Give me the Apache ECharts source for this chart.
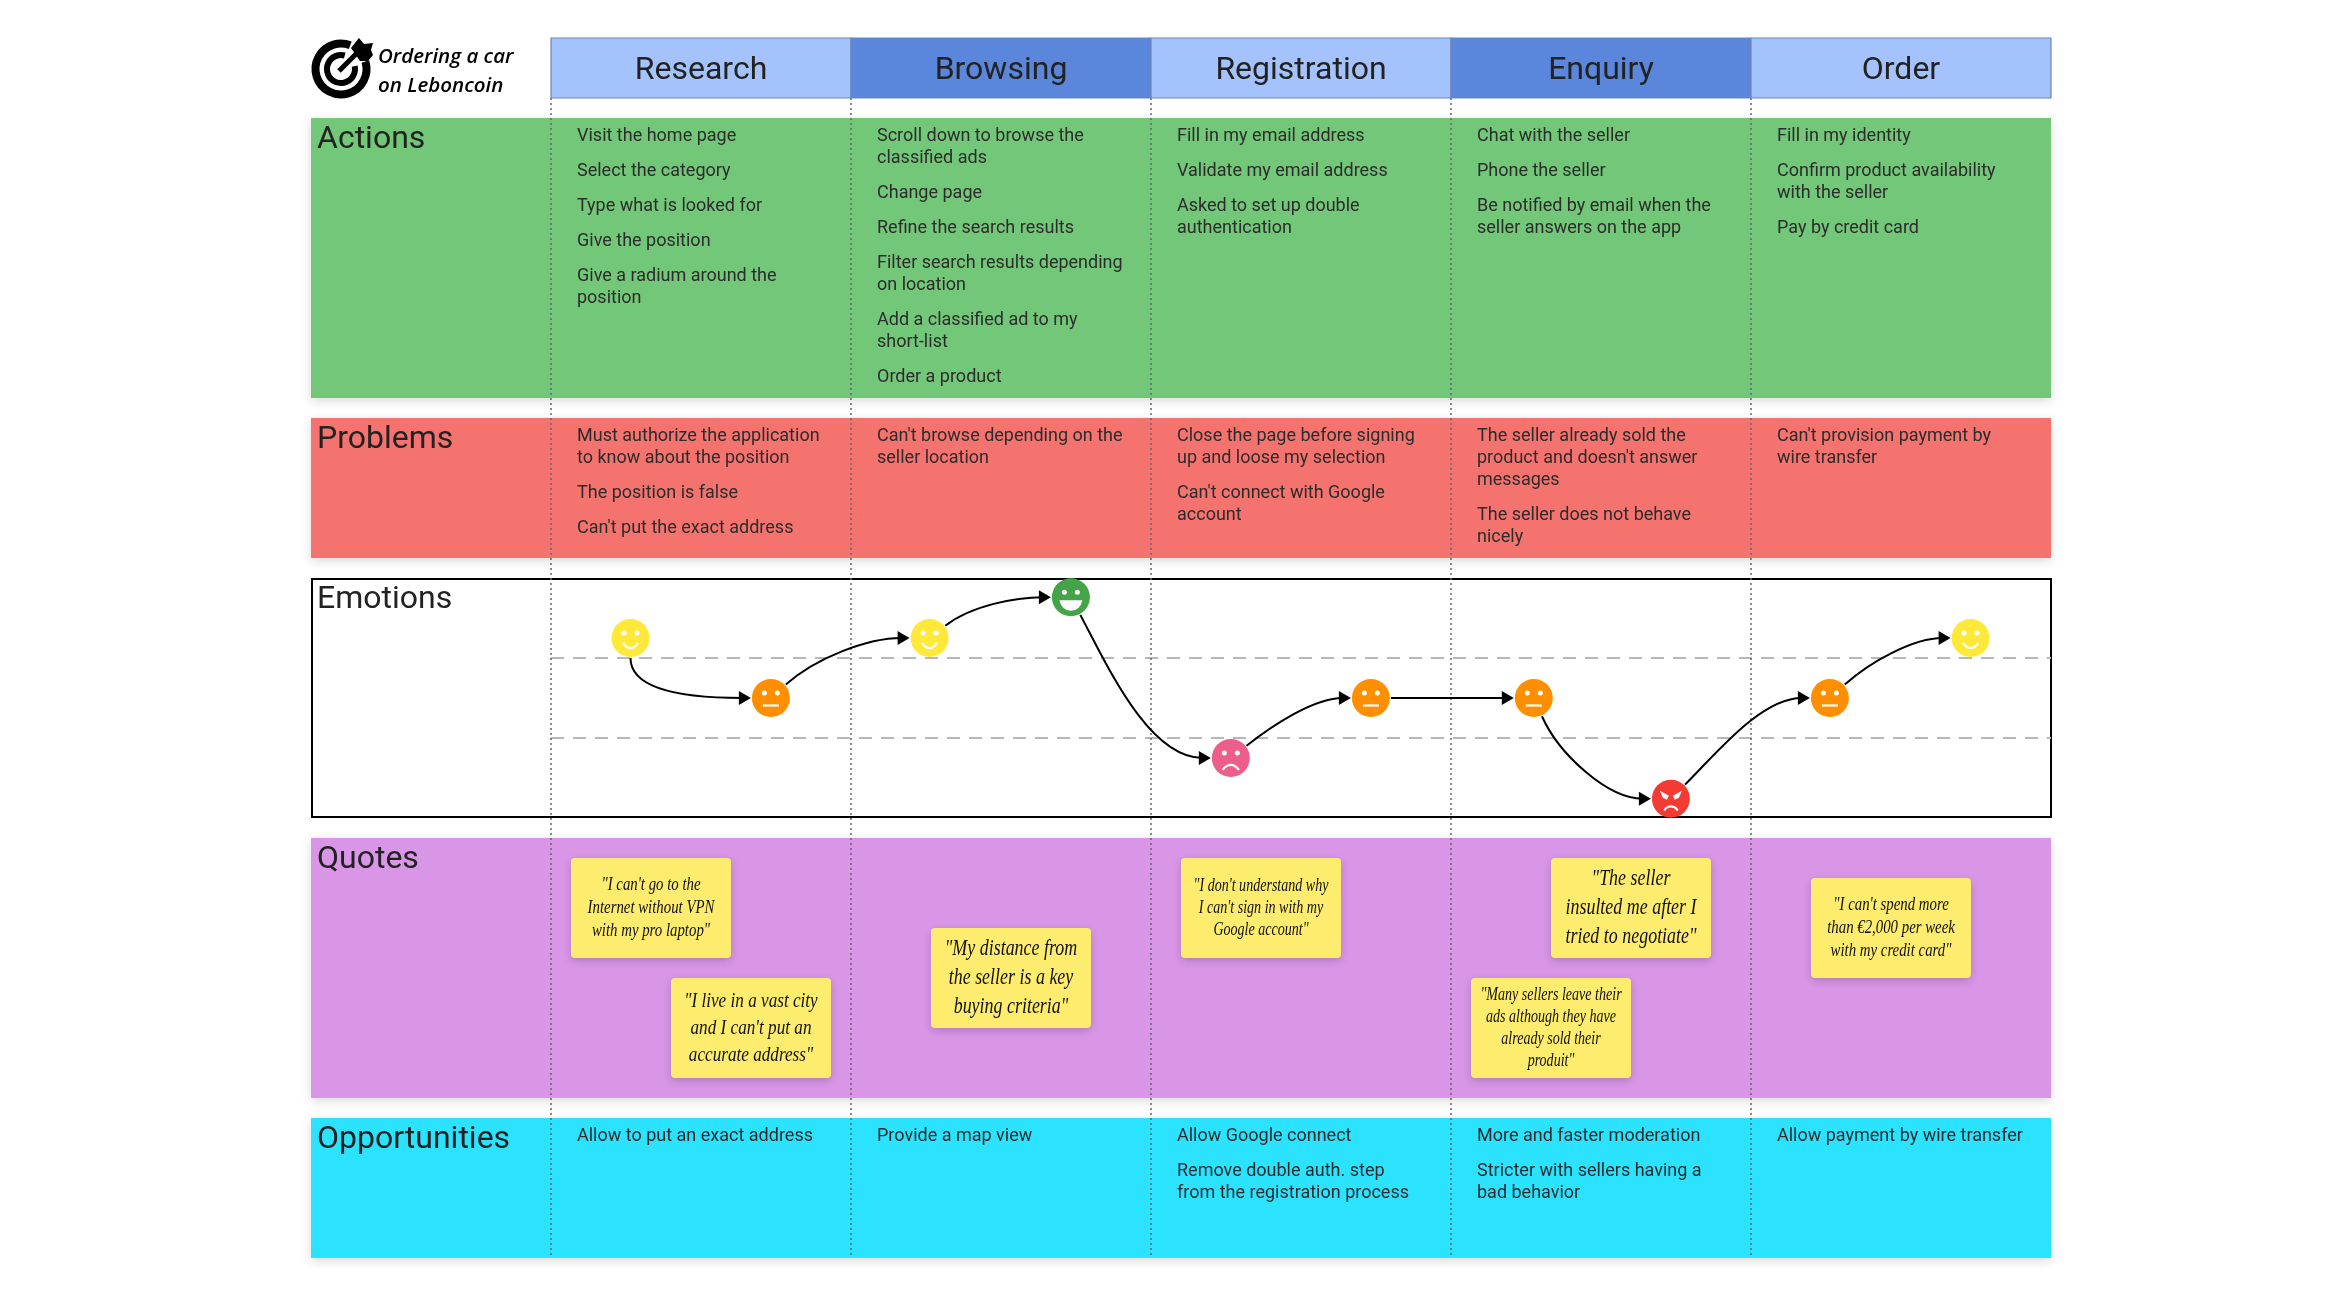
<!DOCTYPE html>
<html>
<head>
<meta charset="utf-8">
<title>Ordering a car on Leboncoin</title>
<script src="https://cdn.jsdelivr.net/npm/echarts@6/dist/echarts.min.js"></script>
<style>
  html, body { margin: 0; padding: 0; background: #fff; }
  #chart { width: 2351px; height: 1300px; }
</style>
</head>
<body>
<div id="chart"></div>
<script>
// stages of the journey
var stages = ["Research", "Browsing", "Registration", "Enquiry", "Order"];
var titleLines = ["Ordering a car", "on Leboncoin"];
var rowNames = ["Actions", "Problems", "Emotions", "Quotes", "Opportunities"];

var actions = [
  ["Visit the home page", "Select the category", "Type what is looked for", "Give the position", "Give a radium around the\nposition"],
  ["Scroll down to browse the\nclassified ads", "Change page", "Refine the search results", "Filter search results depending\non location", "Add a classified ad to my\nshort-list", "Order a product"],
  ["Fill in my email address", "Validate my email address", "Asked to set up double\nauthentication"],
  ["Chat with the seller", "Phone the seller", "Be notified by email when the\nseller answers on the app"],
  ["Fill in my identity", "Confirm product availability\nwith the seller", "Pay by credit card"]
];
var problems = [
  ["Must authorize the application\nto know about the position", "The position is false", "Can't put the exact address"],
  ["Can't browse depending on the\nseller location"],
  ["Close the page before signing\nup and loose my selection", "Can't connect with Google\naccount"],
  ["The seller already sold the\nproduct and doesn't answer\nmessages", "The seller does not behave\nnicely"],
  ["Can't provision payment by\nwire transfer"]
];
var opportunities = [
  ["Allow to put an exact address"],
  ["Provide a map view"],
  ["Allow Google connect", "Remove double auth. step\nfrom the registration process"],
  ["More and faster moderation", "Stricter with sellers having a\nbad behavior"],
  ["Allow payment by wire transfer"]
];
var quotes = [
  "\"I can't go to the\nInternet without VPN\nwith my pro laptop\"",
  "\"I live in a vast city\nand I can't put an\naccurate address\"",
  "\"My distance from\nthe seller is a key\nbuying criteria\"",
  "\"I don't understand why\nI can't sign in with my\nGoogle account\"",
  "\"The seller\ninsulted me after I\ntried to negotiate\"",
  "\"Many sellers leave their\nads although they have\nalready sold their\nproduit\"",
  "\"I can't spend more\nthan €2,000 per week\nwith my credit card\""
];

// emotion curve: position along the stages (0-5), mood score (0-100), face kind
var moodStage = [0.265, 0.733, 1.262, 1.733, 2.266, 2.733, 3.276, 3.733, 4.263, 4.732];
var moodScore = [75, 50, 75, 92, 25, 50, 50, 8, 50, 75];
var moodKind = ["happy", "neutral", "happy", "great", "sad", "neutral", "neutral", "angry", "neutral", "happy"];

// layout, kept apart from the data
var colLeft = 551, colWidth = 300, labelLeft = 311, tableRight = 2051;
var rowBands = [
  { top: 118, bottom: 398, color: "#73c778" },
  { top: 418, bottom: 558, color: "#f5736e" },
  null,
  { top: 838, bottom: 1098, color: "#d996e7" },
  { top: 1118, bottom: 1258, color: "#2be2ff" }
];
var labelY = [140, 440, 600, 860, 1140];
var quoteX = [571, 671, 931, 1181, 1551, 1471, 1811];
var quoteY = [858, 978, 928, 858, 858, 978, 878];
var quoteFont = [19, 22, 23, 18, 23, 18, 19];
var quoteLine = [23, 27, 29, 22, 29, 22, 23];
var moodColor = { happy: "#fee83a", neutral: "#ff8f00", great: "#43a548", sad: "#ed5f8a", angry: "#f33b33" };
// angle the arrow leaves each face at, degrees, screen direction
var leaveAngle = [90, -42, -38, 62, -38, 0, 66, -45, -42];

var bodyFont = 'Roboto, sans-serif';
var elements = [];

// coloured bands
rowBands.forEach(function (b) {
  if (!b) return;
  elements.push({
    type: "rect", z: -5,
    shape: { x: labelLeft, y: b.top, width: tableRight - labelLeft, height: b.bottom - b.top },
    style: { fill: b.color, shadowBlur: 10, shadowOffsetY: 3, shadowColor: "rgba(0,0,0,0.15)" }
  });
});

// emotions frame
elements.push({
  type: "rect", z: -4,
  shape: { x: 312, y: 579, width: 1739, height: 238 },
  style: { fill: "#fff", stroke: "#000", lineWidth: 2 }
});

// header row
stages.forEach(function (name, i) {
  var x = colLeft + i * colWidth;
  elements.push({
    type: "rect", z: 3,
    shape: { x: x, y: 38, width: colWidth, height: 60 },
    style: { fill: i % 2 ? "#5a86dc" : "#a4c2fb", stroke: "#6a86b8", lineWidth: 1.2 }
  });
  elements.push({
    type: "text", z: 4, x: x + colWidth / 2, y: 71,
    style: { text: name, fill: "#222", font: "400 32px " + bodyFont, textAlign: "center", textVerticalAlign: "middle" }
  });
});

// row labels
rowNames.forEach(function (name, i) {
  elements.push({
    type: "text", z: 4, x: 317, y: labelY[i],
    style: { text: name, fill: "#222", font: "400 32px " + bodyFont, textVerticalAlign: "middle" }
  });
});

function addColumnText(list, top) {
  list.forEach(function (items, c) {
    var y = top + 18;
    items.forEach(function (item) {
      item.split("\n").forEach(function (line) {
        elements.push({
          type: "text", z: 4, x: colLeft + c * colWidth + 26, y: y,
          style: { text: line, fill: "#2c2c2c", font: "400 18px " + bodyFont, textVerticalAlign: "middle" }
        });
        y += 22;
      });
      y += 13;
    });
  });
}
addColumnText(actions, rowBands[0].top);
addColumnText(problems, rowBands[1].top);
addColumnText(opportunities, rowBands[4].top);

// sticky notes
quotes.forEach(function (q, i) {
  elements.push({
    type: "rect", z: 3,
    shape: { x: quoteX[i], y: quoteY[i], width: 160, height: 100, r: 4 },
    style: { fill: "#feec6e", shadowBlur: 8, shadowOffsetY: 3, shadowColor: "rgba(0,0,0,0.18)" }
  });
  elements.push({
    type: "text", z: 4, x: quoteX[i] + 80, y: quoteY[i] + 50, scaleX: 0.78,
    style: {
      text: q, fill: "#111", font: "italic 400 " + quoteFont[i] + "px 'Liberation Serif', serif",
      lineHeight: quoteLine[i], textAlign: "center", textVerticalAlign: "middle"
    }
  });
});

// logo: target with arrow
elements.push(
  { type: "arc", z: 4, shape: { cx: 341, cy: 69, r: 25.5, startAngle: -0.3, endAngle: -1.2, clockwise: true }, style: { fill: null, stroke: "#000", lineWidth: 8 } },
  { type: "arc", z: 4, shape: { cx: 341, cy: 69, r: 14, startAngle: -0.2, endAngle: -1.3, clockwise: true }, style: { fill: null, stroke: "#000", lineWidth: 6 } },
  { type: "line", z: 4, shape: { x1: 341, y1: 69, x2: 358, y2: 52 }, style: { stroke: "#fff", lineWidth: 10 } },
  { type: "line", z: 4, shape: { x1: 339, y1: 71, x2: 358, y2: 52 }, style: { stroke: "#000", lineWidth: 5 } },
  { type: "polygon", z: 4, shape: { points: [[351, 48], [359, 38], [364, 44], [373, 43], [371, 50], [373, 55], [368, 61], [360, 61]] }, style: { fill: "#000" } }
);
titleLines.forEach(function (t, i) {
  elements.push({
    type: "text", z: 4, x: 378, y: 57 + i * 29,
    style: { text: t, fill: "#000", font: "italic 600 20.5px 'Open Sans', sans-serif", textVerticalAlign: "middle" }
  });
});

// one arrow between two consecutive faces
function renderLink(params, api) {
  var from = api.coord([api.value(0), api.value(1)]);
  var to = api.coord([api.value(2), api.value(3)]);
  var a = api.value(4) * Math.PI / 180;
  var r = 20;
  var sx = from[0] + r * Math.cos(a), sy = from[1] + r * Math.sin(a);
  var ex = to[0] - r, ey = to[1];
  var len = Math.sqrt((ex - sx) * (ex - sx) + (ey - sy) * (ey - sy));
  var children = [];
  children.push({
    type: "bezierCurve",
    shape: {
      x1: sx, y1: sy,
      cpx1: sx + Math.cos(a) * len * 0.3, cpy1: sy + Math.sin(a) * len * 0.3,
      cpx2: ex - len * 0.32, cpy2: ey,
      x2: ex - 8, y2: ey
    },
    style: { fill: null, stroke: "#000", lineWidth: 2 }
  });
  children.push({
    type: "polygon",
    shape: { points: [[ex, ey], [ex - 12, ey - 7], [ex - 12, ey + 7]] },
    style: { fill: "#000" }
  });
  return { type: "group", children: children };
}

// face with its features
function renderFace(params, api) {
  var c = api.coord([api.value(0), api.value(1)]);
  var kind = moodKind[params.dataIndex];
  var x = c[0], y = c[1];
  var white = { fill: "#fff" };
  var line = { fill: null, stroke: "#fff", lineWidth: 2.2 };
  var children = [
    { type: "circle", shape: { cx: x, cy: y, r: 19 }, style: { fill: moodColor[kind] } }
  ];
  if (kind !== "angry") {
    children.push({ type: "circle", shape: { cx: x - 6.5, cy: y - 5, r: 2.5 }, style: white });
    children.push({ type: "circle", shape: { cx: x + 6.5, cy: y - 5, r: 2.5 }, style: white });
  }
  if (kind === "happy") {
    children.push({ type: "arc", shape: { cx: x, cy: y + 2, r: 8, startAngle: 0.35, endAngle: Math.PI - 0.35 }, style: line });
  } else if (kind === "neutral") {
    children.push({ type: "line", shape: { x1: x - 8, y1: y + 7.5, x2: x + 8, y2: y + 7.5 }, style: line });
  } else if (kind === "great") {
    children.push({ type: "path", shape: { pathData: "M" + (x - 11.5) + " " + (y + 3) + " L" + (x + 11.5) + " " + (y + 3) + " Q" + (x + 9) + " " + (y + 13.5) + " " + x + " " + (y + 13.5) + " Q" + (x - 9) + " " + (y + 13.5) + " " + (x - 11.5) + " " + (y + 3) + " Z" }, style: white });
  } else if (kind === "sad") {
    children.push({ type: "arc", shape: { cx: x, cy: y + 16, r: 9, startAngle: Math.PI + 0.45, endAngle: -0.45 }, style: line });
  } else if (kind === "angry") {
    children.push({ type: "polygon", shape: { points: [[x - 11, y - 8], [x - 2, y - 3], [x - 4, y + 1], [x - 8, y - 1]] }, style: white });
    children.push({ type: "polygon", shape: { points: [[x + 11, y - 8], [x + 2, y - 3], [x + 4, y + 1], [x + 8, y - 1]] }, style: white });
    children.push({ type: "arc", shape: { cx: x, cy: y + 15, r: 7.5, startAngle: Math.PI + 0.45, endAngle: -0.45 }, style: line });
  }
  return { type: "group", children: children };
}

var faceData = moodStage.map(function (s, i) { return [s, moodScore[i]]; });
var linkData = leaveAngle.map(function (a, i) {
  return [moodStage[i], moodScore[i], moodStage[i + 1], moodScore[i + 1], a];
});

var myCharts = echarts.init(document.getElementById("chart"));
myCharts.setOption({
  animation: false,
  backgroundColor: "#fff",
  tooltip: { show: false },
  graphic: { elements: elements },
  grid: [
    { left: colLeft, width: colWidth * stages.length, top: 578, height: 240 },
    { left: colLeft, width: colWidth * stages.length, top: 98, height: 1157 }
  ],
  xAxis: [
    {
      gridIndex: 0, type: "value", min: 0, max: 5, interval: 1,
      axisLine: { show: false }, axisTick: { show: false }, axisLabel: { show: false }, splitLine: { show: false }
    },
    {
      gridIndex: 1, type: "value", min: 0, max: 5, interval: 1,
      axisLine: { show: false }, axisTick: { show: false }, axisLabel: { show: false },
      splitLine: { show: true, showMaxLine: false, lineStyle: { color: "#666", width: 1.5, type: [2, 3] } }
    }
  ],
  yAxis: [
    {
      gridIndex: 0, type: "value", min: 0, max: 100, interval: 100 / 3,
      axisLine: { show: false }, axisTick: { show: false }, axisLabel: { show: false },
      splitLine: { show: true, showMinLine: false, showMaxLine: false, lineStyle: { color: "#b7b7b7", width: 2, type: [13, 9] } }
    },
    {
      gridIndex: 1, type: "value", min: 0, max: 1,
      axisLine: { show: false }, axisTick: { show: false }, axisLabel: { show: false }, splitLine: { show: false }
    }
  ],
  series: [
    {
      type: "custom", name: "links", xAxisIndex: 0, yAxisIndex: 0, z: 5, silent: true,
      renderItem: renderLink, data: linkData, clip: false
    },
    {
      type: "custom", name: "faces", xAxisIndex: 0, yAxisIndex: 0, z: 6, silent: true,
      renderItem: renderFace, data: faceData, clip: false
    }
  ]
});
</script>
</body>
</html>
